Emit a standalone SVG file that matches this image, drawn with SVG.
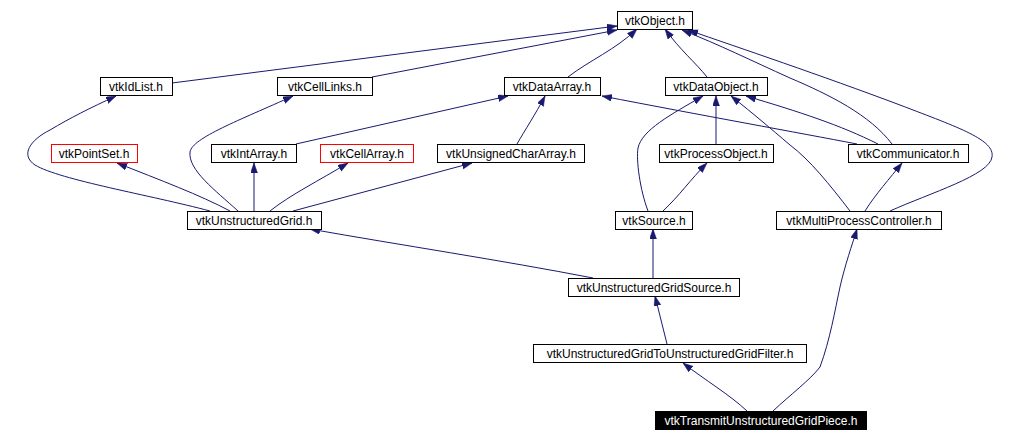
<svg xmlns="http://www.w3.org/2000/svg" width="1021" height="442" viewBox="0 0 1021 442">
<defs>
<marker id="ah" markerUnits="userSpaceOnUse" markerWidth="11" markerHeight="8" refX="10" refY="3.5" orient="auto">
<path d="M0,0 L10,3.5 L0,7 z" fill="#191970" stroke="#191970" stroke-width="0.5"/>
</marker>
<style>
.n rect{fill:#fff;stroke:#000;stroke-width:1}
.n.r rect{stroke:#ff0000}
.n.s rect{fill:#000;stroke:#000}
.n text{font-family:"Liberation Sans",Arial,sans-serif;font-size:12px;fill:#000;text-anchor:middle}
.n.s text{fill:#fff}
#edges path{fill:none;stroke:#191970;stroke-width:1;marker-end:url(#ah)}
</style>
</defs>
<rect width="1021" height="442" fill="#fff"/>
<g id="edges">
<path d="M172,83 L617,26"/>
<path d="M372,77 L617,30"/>
<path d="M568,77 C590,60 615,50 637,29"/>
<path d="M707,77 C695,62 680,50 665,29"/>
<path d="M892,144 C870,115 830,95 790,78 C750,60 720,45 682,30"/>
<path d="M890,211 C930,193 990,175 992,157 C995,140 960,128 900,105 C820,75 740,48 688,30"/>
<path d="M210,211 C150,195 60,180 35,165 C20,155 30,140 50,130 C70,118 90,108 116,96"/>
<path d="M230,211 C200,195 160,180 117,163"/>
<path d="M238,211 C215,190 188,170 190,152 C192,138 240,120 293,96"/>
<path d="M254,211 L254,163"/>
<path d="M270,211 C290,195 320,180 348,163"/>
<path d="M293,211 L472,163"/>
<path d="M296,144 L508,96"/>
<path d="M517,144 C525,130 535,115 545,96"/>
<path d="M857,144 C800,133 700,115 602,96"/>
<path d="M648,211 C640,190 636,160 638,148 C642,130 670,115 703,96"/>
<path d="M716,144 L716,96"/>
<path d="M878,144 C840,125 800,112 746,96"/>
<path d="M850,211 C830,185 810,160 790,145 C770,128 755,115 731,96"/>
<path d="M663,211 C680,195 690,180 707,163"/>
<path d="M865,211 C875,195 890,178 902,163"/>
<path d="M593,278 C500,260 400,245 310,229"/>
<path d="M653,278 L653,229"/>
<path d="M667,344 C663,328 659,312 655,296"/>
<path d="M747,411 C730,395 705,380 683,363"/>
<path d="M773,411 C790,395 810,380 820,367 C830,340 835,310 840,287 C845,265 852,245 857,229"/>
</g>
<g id="vtkObject" class="n"><rect x="617.5" y="11.5" width="75" height="18"/><text x="655" y="25">vtkObject.h</text></g>
<g id="vtkIdList" class="n"><rect x="100.5" y="77.5" width="72" height="18"/><text x="136" y="91">vtkIdList.h</text></g>
<g id="vtkCellLinks" class="n"><rect x="277.5" y="77.5" width="95" height="18"/><text x="325" y="91">vtkCellLinks.h</text></g>
<g id="vtkDataArray" class="n"><rect x="504.5" y="77.5" width="96" height="18"/><text x="552" y="91">vtkDataArray.h</text></g>
<g id="vtkDataObject" class="n"><rect x="665.5" y="77.5" width="102" height="18"/><text x="716" y="91">vtkDataObject.h</text></g>
<g id="vtkPointSet" class="n r"><rect x="51.5" y="144.5" width="86" height="18"/><text x="94" y="158">vtkPointSet.h</text></g>
<g id="vtkIntArray" class="n"><rect x="211.5" y="144.5" width="85" height="18"/><text x="254" y="158">vtkIntArray.h</text></g>
<g id="vtkCellArray" class="n r"><rect x="320.5" y="144.5" width="93" height="18"/><text x="367" y="158">vtkCellArray.h</text></g>
<g id="vtkUnsignedCharArray" class="n"><rect x="437.5" y="144.5" width="147" height="18"/><text x="511" y="158">vtkUnsignedCharArray.h</text></g>
<g id="vtkProcessObject" class="n"><rect x="659.5" y="144.5" width="114" height="18"/><text x="716" y="158">vtkProcessObject.h</text></g>
<g id="vtkCommunicator" class="n"><rect x="848.5" y="144.5" width="120" height="18"/><text x="908" y="158">vtkCommunicator.h</text></g>
<g id="vtkUnstructuredGrid" class="n"><rect x="187.5" y="211.5" width="134" height="18"/><text x="254" y="225">vtkUnstructuredGrid.h</text></g>
<g id="vtkSource" class="n"><rect x="615.5" y="211.5" width="77" height="18"/><text x="654" y="225">vtkSource.h</text></g>
<g id="vtkMultiProcessController" class="n"><rect x="776.5" y="211.5" width="165" height="18"/><text x="859" y="225">vtkMultiProcessController.h</text></g>
<g id="vtkUnstructuredGridSource" class="n"><rect x="568.5" y="278.5" width="171" height="18"/><text x="654" y="292">vtkUnstructuredGridSource.h</text></g>
<g id="vtkUnstructuredGridToUnstructuredGridFilter" class="n"><rect x="533.5" y="344.5" width="273" height="18"/><text x="670" y="358">vtkUnstructuredGridToUnstructuredGridFilter.h</text></g>
<g id="vtkTransmitUnstructuredGridPiece" class="n s"><rect x="655.5" y="411.5" width="211" height="18"/><text x="761" y="425">vtkTransmitUnstructuredGridPiece.h</text></g>
</svg>
